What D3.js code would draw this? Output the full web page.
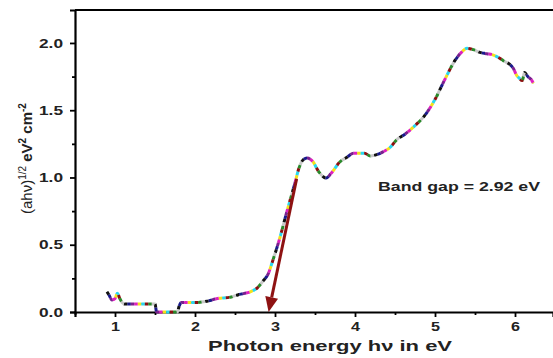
<!DOCTYPE html>
<html>
<head>
<meta charset="utf-8">
<script src="https://cdn.jsdelivr.net/npm/d3@7"></script>
<style>
  body { margin: 0; background: #fff; }
  text { font-family: Arial, "Liberation Sans", sans-serif; }
</style>
</head>
<body>
<div id="chart"></div>
<script>
// photon energy (eV) and (ahv)^1/2
const energy = [0.90, 0.93, 0.96, 1.00, 1.03, 1.06, 1.09, 1.12, 1.30, 1.50, 1.52, 1.78, 1.80, 1.83,
  2.00, 2.15, 2.28, 2.44, 2.55, 2.69, 2.78, 2.85, 2.92, 2.96, 3.06, 3.15, 3.25, 3.30, 3.35, 3.40,
  3.47, 3.55, 3.64, 3.70, 3.81, 3.90, 3.98, 4.06, 4.12, 4.19, 4.27, 4.35, 4.45, 4.52, 4.62,
  4.73, 4.87, 5.00, 5.12, 5.25, 5.33, 5.40, 5.48, 5.56, 5.65, 5.73, 5.85, 5.98, 6.02, 6.05,
  6.09, 6.12, 6.16, 6.20, 6.23];
const absorb = [0.15, 0.12, 0.09, 0.10, 0.14, 0.10, 0.07, 0.06, 0.06, 0.06, 0.00, 0.00, 0.04, 0.07,
  0.07, 0.08, 0.10, 0.11, 0.13, 0.15, 0.18, 0.23, 0.29, 0.36, 0.55, 0.75, 0.96, 1.07, 1.13, 1.145,
  1.12, 1.04, 0.996, 1.03, 1.115, 1.15, 1.18, 1.18, 1.18, 1.16, 1.17, 1.19, 1.23, 1.28, 1.32,
  1.375, 1.46, 1.58, 1.725, 1.87, 1.93, 1.96, 1.95, 1.93, 1.92, 1.91, 1.87, 1.81, 1.76, 1.74,
  1.72, 1.78, 1.75, 1.73, 1.70];
const xTicks = [1, 2, 3, 4, 5, 6];
const yTicks = [0, 0.5, 1.0, 1.5, 2.0];
const dotColors = ['#111111', '#1a1a8c', '#7a1f8f', '#e020c0', '#f5e11a', '#28d8f0', '#8b1010', '#2a8a2a', '#c8c8c8'];
const bandGap = 2.92;
const arrowTop = [3.27, 0.99];

const W = 553, H = 358;
const margin = { top: 10, right: 0, bottom: 46, left: 75 };

const svg = d3.select('#chart').append('svg').attr('width', W).attr('height', H);

const x = d3.scaleLinear().domain([0.5, 6.475]).range([margin.left, W - margin.right]);
const y = d3.scaleLinear().domain([0, 2.245]).range([H - margin.bottom, margin.top]);

// minor ticks
const xMinor = d3.range(0.5, 6.5, 0.5).filter((v) => !xTicks.includes(v));
const yMinor = d3.range(0.25, 2.25, 0.5);

svg.append('g')
  .attr('class', 'xaxis')
  .attr('transform', `translate(0,${y(0)})`)
  .call(d3.axisBottom(x).tickValues(xTicks).tickFormat(d3.format('d')).tickSize(5).tickPadding(5));
svg.append('g')
  .attr('transform', `translate(0,${y(0)})`)
  .call(d3.axisBottom(x).tickValues(xMinor).tickFormat('').tickSize(3))
  .call((g) => g.select('.domain').remove());

svg.append('g')
  .attr('class', 'yaxis')
  .attr('transform', `translate(${x(0.5)},0)`)
  .call(d3.axisLeft(y).tickValues(yTicks).tickFormat(d3.format('.1f')).tickSize(5).tickPadding(7));
svg.append('g')
  .attr('transform', `translate(${x(0.5)},0)`)
  .call(d3.axisLeft(y).tickValues(yMinor).tickFormat('').tickSize(3))
  .call((g) => g.select('.domain').remove());

svg.selectAll('.domain').attr('stroke', '#000').attr('stroke-width', 2.2);
svg.selectAll('.tick line').attr('stroke', '#000').attr('stroke-width', 1.8);
svg.selectAll('.tick text')
  .attr('font-size', 13).attr('font-weight', 'bold').attr('fill', '#222')
  .attr('font-family', 'Arial, "Liberation Sans", sans-serif');
svg.selectAll('.yaxis .tick text').attr('textLength', 24).attr('lengthAdjust', 'spacingAndGlyphs');
svg.selectAll('.xaxis .tick text').attr('textLength', 9).attr('lengthAdjust', 'spacingAndGlyphs');

// top frame line
svg.append('line')
  .attr('x1', x(0.5)).attr('x2', W)
  .attr('y1', y(2.245)).attr('y2', y(2.245))
  .attr('stroke', '#000').attr('stroke-width', 2.2);

// the curve: a thin dotted base and dashes in rotating colours
const line = d3.line().x((d) => x(d[0])).y((d) => y(d[1])).curve(d3.curveMonotoneX);
const pts = energy.map((e, i) => [e, absorb[i]]);

svg.append('path').datum(pts).attr('d', line)
  .attr('fill', 'none').attr('stroke', '#444').attr('stroke-width', 1.2).attr('stroke-dasharray', '2 1.5');

const dash = 3.5, period = dash * dotColors.length;
dotColors.forEach((c, i) => {
  svg.append('path').datum(pts).attr('d', line)
    .attr('fill', 'none').attr('stroke', c).attr('stroke-width', 3)
    .attr('stroke-dasharray', `${dash} ${period - dash}`)
    .attr('stroke-dashoffset', -i * dash);
});

// band gap arrow
const arrowColor = '#8e1212';
const x0 = x(arrowTop[0]), y0 = y(arrowTop[1]);
const x1 = x(bandGap), y1 = y(0);
const ang = Math.atan2(y1 - y0, x1 - x0);
const headLen = 15, headW = 6.5;
const bx = x1 - headLen * Math.cos(ang), by = y1 - headLen * Math.sin(ang);
svg.append('line')
  .attr('x1', x0).attr('y1', y0).attr('x2', bx).attr('y2', by)
  .attr('stroke', arrowColor).attr('stroke-width', 3);
svg.append('path')
  .attr('d', `M${x1},${y1} L${bx + headW * Math.sin(ang)},${by - headW * Math.cos(ang)} L${bx - headW * Math.sin(ang)},${by + headW * Math.cos(ang)} Z`)
  .attr('fill', arrowColor);

// annotation
svg.append('text')
  .attr('x', 378).attr('y', 191)
  .attr('font-size', 12.5).attr('font-weight', 'bold').attr('fill', '#222')
  .attr('textLength', 162).attr('lengthAdjust', 'spacingAndGlyphs')
  .text('Band gap = 2.92 eV');

// axis titles
svg.append('text')
  .attr('x', 208).attr('y', 351)
  .attr('font-size', 15).attr('font-weight', 'bold').attr('fill', '#222')
  .attr('textLength', 244).attr('lengthAdjust', 'spacingAndGlyphs')
  .text('Photon energy hν in eV');

const yt = svg.append('text')
  .attr('transform', 'translate(32,214) rotate(-90)')
  .attr('font-size', 15).attr('fill', '#222');
yt.append('tspan').text('(ahν)');
yt.append('tspan').attr('font-size', 10).attr('dy', -6).text('1/2');
yt.append('tspan').attr('font-weight', 'bold').attr('dy', 6).text(' eV');
yt.append('tspan').attr('font-weight', 'bold').attr('font-size', 10).attr('dy', -6).text('2');
yt.append('tspan').attr('font-weight', 'bold').attr('dy', 6).text(' cm');
yt.append('tspan').attr('font-weight', 'bold').attr('font-size', 10).attr('dy', -6).text('-2');
</script>
</body>
</html>
